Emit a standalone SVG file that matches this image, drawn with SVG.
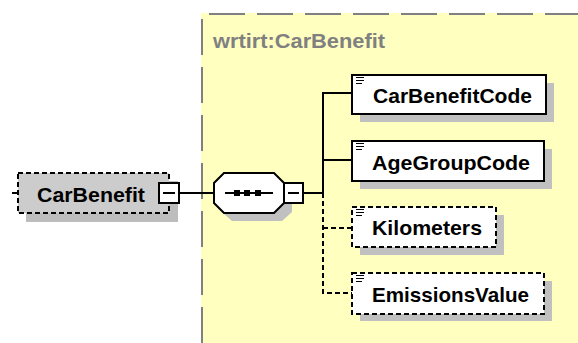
<svg xmlns="http://www.w3.org/2000/svg" width="578" height="343" viewBox="0 0 578 343">
<style>
.lbl{font-family:"Liberation Sans",Arial,sans-serif;font-weight:bold;font-size:21px;fill:#000}
.hdr{font-family:"Liberation Sans",Arial,sans-serif;font-weight:bold;font-size:20px;fill:#808080}
.box{fill:#fff;stroke:#000;stroke-width:2}
.dbox{fill:#fff;stroke:#000;stroke-width:2;stroke-dasharray:5,3}
.shadow{fill:#c0c0c0}
.ln{stroke:#000;stroke-width:2;fill:none}
.dln{stroke:#000;stroke-width:2;fill:none;stroke-dasharray:5,3}
.icon{stroke:#000;stroke-width:1}
</style>
<rect width="578" height="343" fill="#fff"/>
<g id="type-box">
<rect x="201" y="13" width="390" height="340" fill="#ffffc0"/>
<path d="M202 343 V14 H578" fill="none" stroke="#808080" stroke-width="2" stroke-dasharray="36,12"/>
<text class="hdr" x="213" y="48" textLength="172" lengthAdjust="spacingAndGlyphs">wrtirt:CarBenefit</text>
</g>
<g id="connectors">
<line class="ln" x1="12" y1="193" x2="18" y2="193"/>
<line class="ln" x1="180" y1="193" x2="214" y2="193"/>
<line class="ln" x1="303" y1="193" x2="323" y2="193"/>
<path class="ln" d="M323 193 V93 H352 M323 160 H352"/>
<path class="dln" d="M323 193 V293 H352 M323 228 H352"/>
</g>
<g id="CarBenefit">
<rect x="26" y="181" width="152" height="41" fill="#bdbdbd"/>
<rect x="18" y="173" width="151" height="40" fill="#cccccc" stroke="#000" stroke-width="2" stroke-dasharray="5,3"/>
<text class="lbl" x="37" y="202" textLength="108" lengthAdjust="spacingAndGlyphs">CarBenefit</text>
<rect class="box" x="159" y="183" width="20" height="20"/>
<line class="ln" x1="163" y1="193" x2="175" y2="193"/>
</g>
<g id="sequence">
<path class="shadow" d="M232 181 H282 L292 191 V212 L282 221 H232 L222 212 V191 Z"/>
<path class="box" d="M224 173 H274 L284 183 V203 L274 213 H224 L214 203 V183 Z"/>
<line class="ln" x1="225" y1="193" x2="273" y2="193"/>
<rect x="234" y="190" width="6" height="6" fill="#000"/>
<rect x="244" y="190" width="6" height="6" fill="#000"/>
<rect x="255" y="190" width="6" height="6" fill="#000"/>
<rect class="box" x="284" y="183" width="19" height="20"/>
<line class="ln" x1="288" y1="193" x2="299" y2="193"/>
</g>
<g id="CarBenefitCode">
<rect class="shadow" x="360" y="83" width="194" height="39"/>
<rect class="box" x="352" y="75" width="194" height="39"/>
<path class="icon" d="M356 77.5 H364 M356 80.5 H364 M356 83.5 H362"/>
<text class="lbl" x="373" y="103" textLength="159" lengthAdjust="spacingAndGlyphs">CarBenefitCode</text>
</g>
<g id="AgeGroupCode">
<rect class="shadow" x="360" y="149" width="192" height="40"/>
<rect class="box" x="352" y="141" width="192" height="40"/>
<path class="icon" d="M356 143.5 H364 M356 146.5 H364 M356 149.5 H362"/>
<text class="lbl" x="372" y="170" textLength="158" lengthAdjust="spacingAndGlyphs">AgeGroupCode</text>
</g>
<g id="Kilometers">
<rect class="shadow" x="360" y="215" width="144" height="40"/>
<rect class="dbox" x="352" y="207" width="144" height="40"/>
<path class="icon" d="M356 209.5 H364 M356 212.5 H364 M356 215.5 H362"/>
<text class="lbl" x="372" y="235" textLength="110" lengthAdjust="spacingAndGlyphs">Kilometers</text>
</g>
<g id="EmissionsValue">
<rect class="shadow" x="360" y="281" width="192" height="40"/>
<rect class="dbox" x="352" y="273" width="192" height="41"/>
<path class="icon" d="M356 275.5 H364 M356 278.5 H364 M356 281.5 H362"/>
<text class="lbl" x="372" y="302" textLength="157" lengthAdjust="spacingAndGlyphs">EmissionsValue</text>
</g>
</svg>
